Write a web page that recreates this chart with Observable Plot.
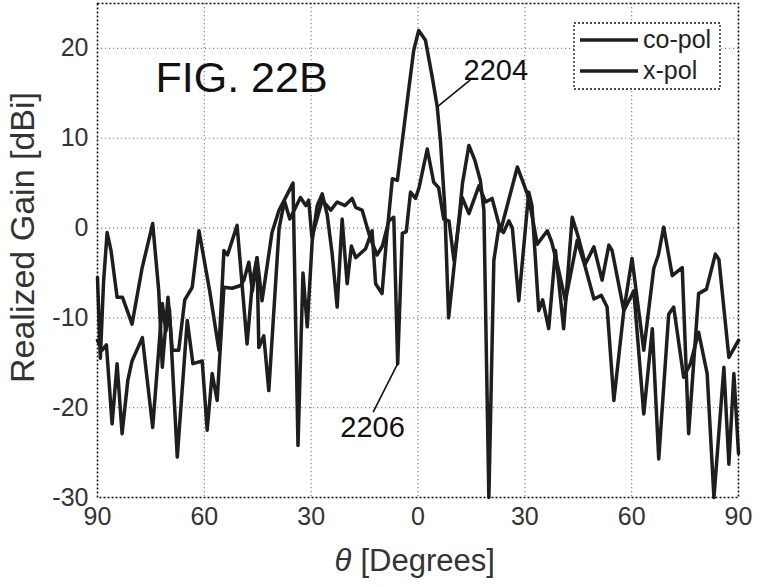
<!DOCTYPE html>
<html>
<head>
<meta charset="utf-8">
<script src="https://cdn.jsdelivr.net/npm/d3@7"></script>
<script src="https://cdn.jsdelivr.net/npm/@observablehq/plot@0.6"></script>
<style>
html,body{margin:0;padding:0;background:#fff;}
#chart{width:761px;height:587px;}
</style>
</head>
<body>
<div id="chart"></div>
<script>
// ---- data ----
const seriesNames = ["co-pol", "x-pol"];

const copolTheta = [-90,-89.2,-88.3,-87.3,-86.2,-84.5,-83,-80.3,-77.5,-74.5,-72.8,-71.8,-70.2,-69,-67.2,-65.5,-63.4,-61.5,-58.5,-55.9,-54.5,-53.5,-50.8,-48,-46.5,-45.2,-43.8,-41,-39,-35.1,-33.7,-32.3,-31.1,-29.7,-28.3,-26.9,-25.5,-24.1,-22.7,-21.3,-19.9,-18.7,-17.5,-14.7,-12.9,-11.9,-10.1,-8.8,-7.2,-5.8,-3,-1.2,0.2,2.1,4,5.4,6.3,7.5,8.6,10.2,11.5,12.5,14.3,16,17.5,18.5,19.9,21.3,22.7,24,25.5,26.5,28.3,31.1,32,33.9,35,36.7,38.6,40.9,43.3,45,47,49.4,51.7,53.6,54.5,57.8,60.1,63.4,66.2,67.5,69,71.4,74.2,76,78.8,81,83.5,84.5,87.3,90];
const copolGain = [-5.5,-14.5,-6,-0.5,-2.5,-7.7,-7.7,-10.7,-4.5,0.5,-7,-15.5,-7.7,-13.6,-13.6,-8,-6.6,-0.3,-7,-13.6,-2.5,-3,0.3,-12.9,-6,-3.3,-8.1,-0.5,2,5,-24.2,-5,-11,-1.4,2.5,3.8,1.5,-2.9,-8.8,1,-6.2,-2,-3.3,-2.3,-0.3,-6.2,-7.3,-1,5.5,5.3,14.2,19.8,22,20.9,16.8,13.5,9.7,2.5,-10,-4,1,5,9.2,7.5,5.3,2,-30,-3.6,0.1,-0.5,0.8,0,-8.1,4,2.5,-9.2,-8,-11.2,-2.5,-11.2,1.2,-1,-4,-2.1,-5.8,-1.9,-2.5,-9.2,-3.4,-13.6,-4.5,-3,0.1,-5.3,-4.4,-22.9,-7.3,-6.8,-2.9,-3.5,-14.4,-12.5];

const xpolTheta = [-90,-88.7,-87.5,-85.9,-84.5,-83.1,-81.5,-80.3,-77.4,-74.5,-71.8,-70.8,-69.8,-67.6,-64.8,-63.2,-60.6,-59.2,-57.8,-56.4,-54.5,-52.2,-49.8,-48.9,-47.5,-46.5,-45.2,-44.7,-43.3,-41.9,-39,-37.5,-36,-33,-31.5,-30.7,-29.8,-26.9,-24.5,-22.7,-20.5,-18.5,-17.5,-15.7,-13.5,-11.5,-10,-8.2,-6.8,-5.7,-4.4,-3.3,-2.1,-0.7,0.3,2.6,4.4,5.8,7.2,8.7,10.1,12.4,14.3,17.1,19,20.8,23.2,27.9,30.7,31.5,33.5,36.3,37.5,39.1,41.4,44.7,47,49.4,51.5,53.1,55,57.8,60.6,63.4,65.8,67.6,70.4,71.8,74.6,76.5,78.8,81.2,83.1,85.9,87.3,88.7,90];
const xpolGain = [-12.5,-13.6,-13,-21.8,-15.1,-22.9,-17,-14.8,-12.2,-22.2,-8.4,-11.5,-9,-25.5,-10.3,-15.1,-14.8,-22.5,-16.2,-19.2,-6.6,-6.7,-6.4,-5.8,-3.8,-7,-3.3,-13.3,-12,-18.1,0,3,1,3.4,2.5,3.1,-1,3.1,2,2.9,2.5,3.3,2.3,2,-1,-3,-2,0.8,1.2,-15.1,-0.6,-0.4,4,3.3,4.5,8.8,5.1,4.5,1,0.8,-3.6,3.4,1.6,4.7,2.9,3.3,-0.3,6.8,3.8,2.5,-1.8,-0.3,-1.5,-4,-8.1,-1.4,-4.4,-7.9,-7.5,-8.8,-19.2,-9.2,-7,-20.7,-11.2,-25.7,-9.6,-8.8,-16.6,-15.1,-11.6,-16.2,-30,-15.5,-26.3,-16.2,-25.1];

const xTicks = [-90, -60, -30, 0, 30, 60, 90];
const yTicks = [-30, -20, -10, 0, 10, 20];
const xTitleSymbol = "θ";
const xTitleText = "[Degrees]";
const yTitle = "Realized Gain [dBi]";

// callouts, anchored in data units (theta, gain)
const figLabel = [{text: "FIG. 22B", theta: -73.7, gain: 15.1}];
const refLabels = [
  {text: "2204", theta: 12.8, gain: 16.5},
  {text: "2206", theta: -21.8, gain: -23.3}
];
const leaders = [
  {t1: 5.4, g1: 13.5, t2: 14.7, g2: 16.5},
  {t1: -5.7, g1: -15.1, t2: -12.6, g2: -20.5}
];

// ---- build table ----
const rows = [
  ...copolTheta.map((t, i) => ({theta: t, gain: copolGain[i], series: seriesNames[0]})),
  ...xpolTheta.map((t, i) => ({theta: t, gain: xpolGain[i], series: seriesNames[1]}))
];

const ink = "#1e1e1e";
const font = "'Liberation Sans', Arial, Helvetica, sans-serif";

const plot = Plot.plot({
  width: 761,
  height: 587,
  marginLeft: 97,
  marginRight: 23,
  marginTop: 3,
  marginBottom: 90,
  style: {fontFamily: font, background: "#fff", color: ink, overflow: "visible"},
  x: {domain: [-90, 90]},
  y: {domain: [-30, 25]},
  marks: [
    Plot.gridX(xTicks.slice(1, -1), {stroke: "#888", strokeOpacity: 1, strokeDasharray: "1.2,2.8", strokeWidth: 1.2}),
    Plot.gridY(yTicks.slice(1), {stroke: "#888", strokeOpacity: 1, strokeDasharray: "1.2,2.8", strokeWidth: 1.2}),
    Plot.line(rows, {x: "theta", y: "gain", z: "series", stroke: ink, strokeWidth: 3.5, strokeLinejoin: "round"}),
    Plot.frame({stroke: "#111", strokeDasharray: "2,2", strokeWidth: 1.6}),
    Plot.axisX({ticks: xTicks, tickFormat: d => String(Math.abs(d)), tickSize: 0, tickPadding: 10, fontSize: 25, label: null, fill: "#333"}),
    Plot.axisY({ticks: yTicks, tickFormat: d => String(d), tickSize: 0, tickPadding: 9, fontSize: 25, label: null, fill: "#333"}),
    Plot.link(leaders, {x1: "t1", y1: "g1", x2: "t2", y2: "g2", stroke: "#111", strokeWidth: 1.6}),
    Plot.text(figLabel, {x: "theta", y: "gain", text: "text", textAnchor: "start", lineAnchor: "bottom", fontSize: 43, fill: "#111"}),
    Plot.text(refLabels, {x: "theta", y: "gain", text: "text", textAnchor: "start", lineAnchor: "bottom", fontSize: 29, fill: "#111"}),
    Plot.text([yTitle], {frameAnchor: "left", dx: -74, dy: -13, rotate: -90, textAnchor: "middle", lineAnchor: "middle", fontSize: 34, fill: "#333"}),
    Plot.text([xTitleSymbol], {frameAnchor: "bottom-left", dx: 237, dy: 64, textAnchor: "start", lineAnchor: "middle", fontSize: 31, fontStyle: "italic", fill: "#333"}),
    Plot.text([xTitleText], {frameAnchor: "bottom-left", dx: 263, dy: 64, textAnchor: "start", lineAnchor: "middle", fontSize: 31, fill: "#333"})
  ]
});

document.getElementById("chart").appendChild(plot);

// ---- legend box (inside plot, top-right) ----
const svg = d3.select(plot);
const lg = svg.append("g").attr("font-family", font).attr("text-anchor", "start");
lg.append("rect")
  .attr("x", 574).attr("y", 23).attr("width", 146).attr("height", 66)
  .attr("fill", "#fff").attr("stroke", "#111").attr("stroke-width", 1.3).attr("stroke-dasharray", "2,2");
seriesNames.forEach((name, i) => {
  const cy = 40 + i * 31;
  lg.append("line").attr("x1", 580).attr("x2", 638).attr("y1", cy).attr("y2", cy)
    .attr("stroke", ink).attr("stroke-width", 3.5);
  lg.append("text").attr("x", 643).attr("y", cy).attr("dy", "0.32em")
    .attr("text-anchor", "start")
    .attr("font-size", 25).attr("fill", "#222").text(name);
});
</script>
</body>
</html>
